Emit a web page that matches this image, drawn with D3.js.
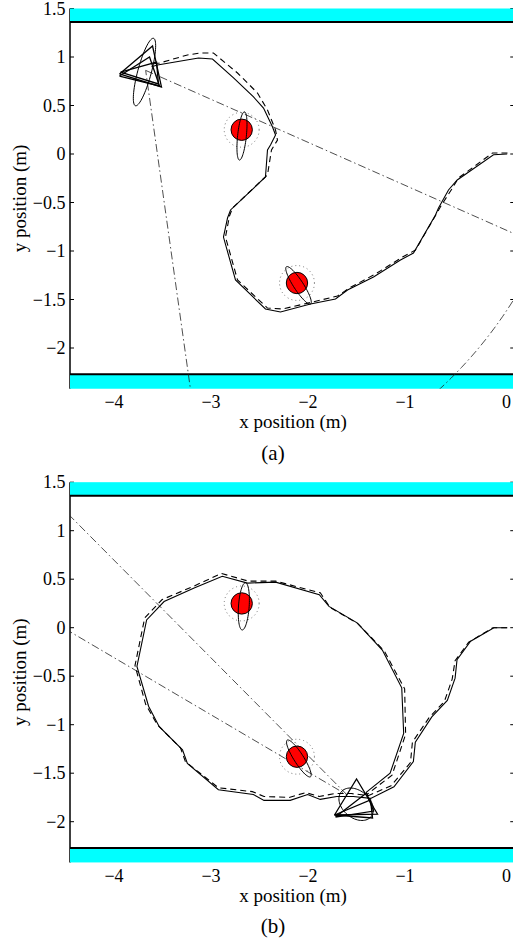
<!DOCTYPE html>
<html>
<head>
<meta charset="utf-8">
<script src="https://d3js.org/d3.v7.min.js"></script>
<style>
  body { margin: 0; background: #fff; }
</style>
</head>
<body>
<script>
// axis ticks
var xTicks = [-4, -3, -2, -1, 0];
var yTicks = [1.5, 1, 0.5, 0, -0.5, -1, -1.5, -2];

// walls (y extents in metres)
var wallTop = [1.36, 1.5];
var wallBottom = [-2.42, -2.27];

// true landmark positions
var landmarks = [[-2.73, 0.25], [-2.16, -1.33]];

// panel (a): estimated path (solid) and true path (dashed)
var pathA = [[0.007,0],[-0.134,-0.007],[-0.508,-0.268],[-0.598,-0.371],[-0.701,-0.557],[-0.732,-0.629],
  [-0.959,-1.021],[-1.093,-1.093],[-1.371,-1.268],[-1.639,-1.402],[-1.763,-1.495],[-2.021,-1.546],
  [-2.33,-1.629],[-2.485,-1.598],[-2.794,-1.299],[-2.918,-0.856],[-2.876,-0.66],[-2.845,-0.577],
  [-2.485,-0.237],[-2.464,0.041],[-2.433,0.093],[-2.381,0.196],[-2.412,0.278],[-2.505,0.474],
  [-2.608,0.588],[-2.814,0.784],[-3.031,0.979],[-3.175,0.99],[-3.598,0.918],[-3.66,0.9]];
var truthA = [[0.01,0.01],[-0.144,0.01],[-0.495,-0.247],[-0.557,-0.351],[-0.67,-0.526],[-0.711,-0.598],
  [-0.938,-0.99],[-1.072,-1.062],[-1.351,-1.237],[-1.619,-1.381],[-1.742,-1.464],[-2.0,-1.526],
  [-2.309,-1.598],[-2.464,-1.588],[-2.773,-1.299],[-2.897,-0.856],[-2.856,-0.639],[-2.825,-0.557],
  [-2.464,-0.216],[-2.423,0.041],[-2.361,0.144],[-2.381,0.247],[-2.464,0.454],[-2.567,0.629],
  [-2.773,0.835],[-3.021,1.041],[-3.155,1.041],[-3.289,1.021],[-3.577,0.938],[-3.64,0.93]];

// panel (b)
var pathB = [[0.007,0],[-0.13,0],[-0.37,-0.14],[-0.51,-0.33],[-0.53,-0.52],[-0.61,-0.75],[-0.77,-0.92],
  [-0.94,-1.18],[-0.96,-1.38],[-1.16,-1.64],[-1.4,-1.76],[-1.58,-1.74],[-1.75,-1.74],[-1.92,-1.77],
  [-2.05,-1.72],[-2.23,-1.78],[-2.5,-1.78],[-2.61,-1.72],[-2.97,-1.67],[-3.29,-1.4],[-3.34,-1.26],
  [-3.58,-1.02],[-3.69,-0.81],[-3.81,-0.4],[-3.71,0.08],[-3.53,0.27],[-3.22,0.41],[-2.93,0.53],
  [-2.67,0.46],[-2.38,0.47],[-1.93,0.34],[-1.83,0.22],[-1.54,0.05],[-1.28,-0.23],[-1.08,-0.62],
  [-1.06,-1.09],[-1.2,-1.5],[-1.45,-1.7]];
var truthB = [[0.007,0],[-0.14,0],[-0.39,-0.15],[-0.53,-0.34],[-0.56,-0.53],[-0.64,-0.76],[-0.8,-0.93],
  [-0.97,-1.18],[-0.99,-1.39],[-1.19,-1.63],[-1.42,-1.73],[-1.6,-1.71],[-1.77,-1.71],[-1.93,-1.74],
  [-2.07,-1.7],[-2.24,-1.75],[-2.5,-1.74],[-2.62,-1.69],[-2.97,-1.65],[-3.31,-1.38],[-3.36,-1.24],
  [-3.6,-1.0],[-3.72,-0.79],[-3.83,-0.39],[-3.73,0.1],[-3.55,0.29],[-3.22,0.43],[-2.94,0.56],
  [-2.66,0.48],[-2.38,0.48],[-1.92,0.36],[-1.82,0.21],[-1.53,0.04],[-1.26,-0.24],[-1.05,-0.63],
  [-1.04,-1.1],[-1.18,-1.52],[-1.44,-1.72]];

// ellipses: [cx, cy, semi-major, semi-minor, angle deg]
var lmEllipsesA = [[-2.727,0.186,0.25,0.045,84],[-2.144,-1.354,0.229,0.05,-57]];
var lmEllipsesB = [[-2.708,0.22,0.244,0.055,86],[-2.141,-1.348,0.224,0.05,-57.6]];
var robotEllipseA = [-3.732,0.845,0.36,0.07,75];
var robotEllipseB = [-1.55,-1.82,0.2,0.14,-40];

// robot triangles
var trianglesA = [
  [[-3.99,0.825],[-3.649,1.113],[-3.557,0.691]],
  [[-3.99,0.804],[-3.68,1.0],[-3.577,0.701]],
  [[-3.979,0.845],[-3.608,0.948],[-3.588,0.722]]];
var trianglesB = [
  [[-1.773,-1.931],[-1.546,-1.56],[-1.33,-1.921]],
  [[-1.763,-1.952],[-1.443,-1.705],[-1.371,-1.89]],
  [[-1.773,-1.931],[-1.402,-1.776],[-1.381,-1.962]]];

// sensor field of view: [cx, cy, range, angle1, angle2]
var sensorA = [-3.72, 0.862, 4.47, -23.9, -82];
var sensorB = [-1.642, -1.725, 4.47, 134.8, 149.5];

var W = 513, H = 941;
var FONT = "'Liberation Serif', 'Times New Roman', Times, 'DejaVu Serif', serif";
var svg = d3.select("body").append("svg").attr("width", W).attr("height", H)
  .style("font-family", FONT);

var x = d3.scaleLinear().domain([-4.5, 0.08]).range([70, 70 + 4.58 * 97]);

function ellipsePts(e) {
  var th = e[4] * Math.PI / 180, pts = [];
  for (var i = 0; i <= 72; i++) {
    var t = i / 72 * 2 * Math.PI;
    pts.push([e[0] + e[2] * Math.cos(t) * Math.cos(th) - e[3] * Math.sin(t) * Math.sin(th),
              e[1] + e[2] * Math.cos(t) * Math.sin(th) + e[3] * Math.sin(t) * Math.cos(th)]);
  }
  return pts;
}

function panel(top, name, est, truth, lmEll, robEll, tris, sensor) {
  var y = d3.scaleLinear().domain([1.5, -2.42]).range([top, top + 3.92 * 97]);
  var g = svg.append("g");
  var line = d3.line().x(function (d) { return x(d[0]); }).y(function (d) { return y(d[1]); });
  var clipId = "clip" + name;
  g.append("clipPath").attr("id", clipId).append("rect")
    .attr("x", x(-4.5)).attr("y", y(1.5))
    .attr("width", x(0.08) - x(-4.5)).attr("height", y(-2.42) - y(1.5));

  // axis lines and ticks
  g.append("line").attr("x1", x(-4.5)).attr("x2", x(-4.5))
    .attr("y1", y(1.5)).attr("y2", y(-2.42)).attr("stroke", "#000").attr("stroke-width", 1.5);
  yTicks.forEach(function (t) {
    g.append("line").attr("x1", x(-4.5)).attr("x2", x(-4.5) + 4).attr("y1", y(t)).attr("y2", y(t))
      .attr("stroke", "#000").attr("stroke-width", 1);
    g.append("line").attr("x1", x(0.08)).attr("x2", x(0.08) - 4).attr("y1", y(t)).attr("y2", y(t))
      .attr("stroke", "#000").attr("stroke-width", 1);
    g.append("text").attr("x", 65.5).attr("y", y(t)).attr("dy", "0.34em")
      .attr("text-anchor", "end").style("font-size", "18px")
      .text(String(t).replace("-", "\u2212"));
  });
  xTicks.forEach(function (t) {
    g.append("text").attr("x", x(t)).attr("dx", t < 0 ? -4.5 : 0).attr("y", y(-2.42) + 19.5)
      .attr("text-anchor", "middle").style("font-size", "18px")
      .text(String(t).replace("-", "\u2212"));
  });

  // walls
  [wallTop, wallBottom].forEach(function (w) {
    g.append("rect").attr("x", x(-4.5)).attr("y", y(w[1]))
      .attr("width", x(0.08) - x(-4.5) + 2).attr("height", y(w[0]) - y(w[1]))
      .attr("fill", "#00ffff");
  });
  g.append("line").attr("x1", x(-4.5)).attr("x2", W).attr("y1", y(wallTop[0])).attr("y2", y(wallTop[0]))
    .attr("stroke", "#000").attr("stroke-width", 2);
  g.append("line").attr("x1", x(-4.5)).attr("x2", W).attr("y1", y(wallBottom[1])).attr("y2", y(wallBottom[1]))
    .attr("stroke", "#000").attr("stroke-width", 2);

  var pg = g.append("g").attr("clip-path", "url(#" + clipId + ")");

  // sensor field of view
  var sp = [], r = sensor[2];
  var a0 = sensor[3] * Math.PI / 180, a1 = sensor[4] * Math.PI / 180;
  sp.push([sensor[0], sensor[1]]);
  for (var i = 0; i <= 60; i++) {
    var a = a0 + (a1 - a0) * i / 60;
    sp.push([sensor[0] + r * Math.cos(a), sensor[1] + r * Math.sin(a)]);
  }
  sp.push([sensor[0], sensor[1]]);
  pg.append("path").attr("d", line(sp)).attr("fill", "none").attr("stroke", "#222")
    .attr("stroke-width", 0.8).attr("stroke-dasharray", "8,3,1.5,3");

  // paths
  pg.append("path").attr("d", line(truth)).attr("fill", "none").attr("stroke", "#000")
    .attr("stroke-width", 1.1).attr("stroke-dasharray", "6,4");
  pg.append("path").attr("d", line(est)).attr("fill", "none").attr("stroke", "#000")
    .attr("stroke-width", 1.1);

  // landmarks
  landmarks.forEach(function (l) {
    pg.append("circle").attr("cx", x(l[0])).attr("cy", y(l[1])).attr("r", 0.18 * 97)
      .attr("fill", "none").attr("stroke", "#555").attr("stroke-width", 0.8)
      .attr("stroke-dasharray", "1,3");
    pg.append("circle").attr("cx", x(l[0])).attr("cy", y(l[1])).attr("r", 0.11 * 97)
      .attr("fill", "#ff0000").attr("stroke", "#000").attr("stroke-width", 1);
  });
  lmEll.concat([robEll]).forEach(function (e) {
    pg.append("path").attr("d", line(ellipsePts(e))).attr("fill", "none")
      .attr("stroke", "#000").attr("stroke-width", 1);
  });

  // robot
  tris.forEach(function (t) {
    pg.append("path").attr("d", line(t.concat([t[0]]))).attr("fill", "none")
      .attr("stroke", "#000").attr("stroke-width", 1.3);
  });

  // labels
  g.append("text").attr("x", 293).attr("y", y(-2.42) + 39.5).attr("text-anchor", "middle")
    .style("font-size", "19px").text("x position (m)");
  g.append("text").attr("transform", "translate(26," + (top + 190) + ") rotate(-90)")
    .attr("text-anchor", "middle").style("font-size", "19px").text("y position (m)");
  g.append("text").attr("x", 273).attr("y", y(-2.42) + 71).attr("text-anchor", "middle")
    .style("font-size", "21px").text("(" + name + ")");
}

panel(8.5, "a", pathA, truthA, lmEllipsesA, robotEllipseA, trianglesA, sensorA);
panel(482.2, "b", pathB, truthB, lmEllipsesB, robotEllipseB, trianglesB, sensorB);
</script>
</body>
</html>
